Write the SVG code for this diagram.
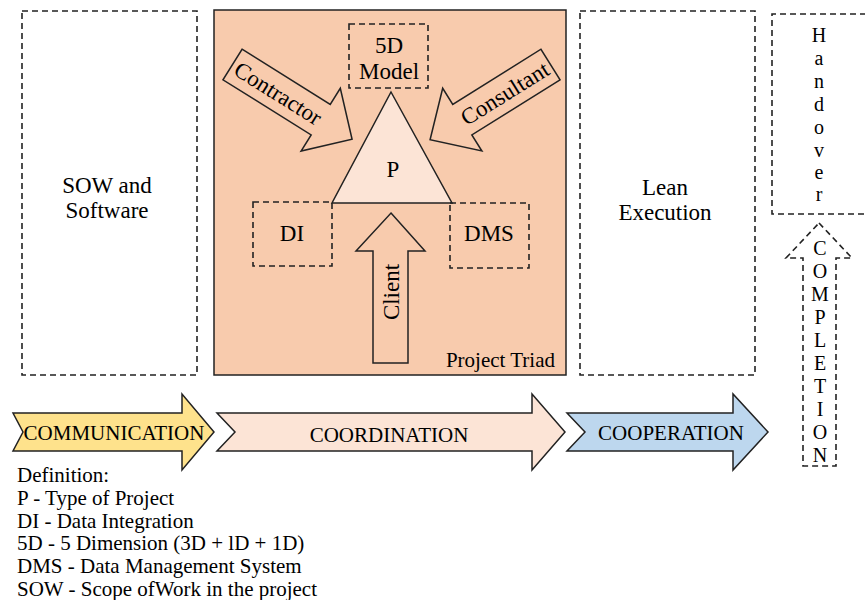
<svg xmlns="http://www.w3.org/2000/svg" width="865" height="600" viewBox="0 0 865 600" font-family="Liberation Serif, Times New Roman, serif">
<style>
text{fill:#000;}
.lbl{font-size:23px;text-anchor:middle;}
.sm{font-size:21px;}
.dash{fill:none;stroke:#222;stroke-width:1.6;stroke-dasharray:6,4;}
.solid{stroke:#222;stroke-width:1.5;stroke-linejoin:miter;}
.vt{font-size:20px;text-anchor:middle;}
</style>
<rect width="865" height="600" fill="#fff"/>
<g id="sow">
<rect class="dash" x="22" y="11" width="175" height="364"/>
<text class="lbl" x="107" y="193" font-family="Liberation Serif, serif">SOW and</text>
<text class="lbl" x="107" y="218" font-family="Liberation Serif, serif">Software</text>
</g>
<g id="project-triad">
<rect class="solid" x="214" y="10" width="352" height="365" fill="#f8cbad"/>
<text class="sm" x="555" y="367" text-anchor="end" font-family="Liberation Serif, serif">Project Triad</text>
</g>
<g id="model5d">
<rect class="dash" x="349" y="24" width="79" height="64"/>
<text class="lbl" x="389" y="53" font-family="Liberation Serif, serif">5D</text>
<text class="lbl" x="389" y="79" font-family="Liberation Serif, serif">Model</text>
</g>
<g id="p">
<polygon class="solid" points="391,92 452,203 332,203" fill="#fce4d6"/>
<text class="lbl" x="393" y="177" font-family="Liberation Serif, serif">P</text>
</g>
<g id="di">
<rect class="dash" x="253" y="202" width="79" height="64"/>
<text class="lbl" x="292" y="241" font-family="Liberation Serif, serif">DI</text>
</g>
<g id="dms">
<rect class="dash" x="450" y="203" width="79" height="65"/>
<text class="lbl" x="489" y="241" font-family="Liberation Serif, serif">DMS</text>
</g>
<g id="contractor" transform="translate(232.5,64.5) rotate(32)">
<polygon class="solid" fill="none" points="0,-18 104,-18 104,-37 141,0 104,37 104,18 0,18"/>
<text class="lbl" x="54" y="8" font-family="Liberation Serif, serif">Contractor</text>
</g>
<g id="consultant" transform="translate(550.5,64.5) rotate(148)">
<polygon class="solid" fill="none" points="0,-18 104,-18 104,-37 142,0 104,37 104,18 0,18"/>
<text class="lbl" x="54" y="8" transform="rotate(180 54 0)" font-family="Liberation Serif, serif">Consultant</text>
</g>
<g id="client">
<polygon class="solid" fill="none" points="391,213 425,251 408,251 408,363 373,363 373,251 356,251"/>
<text class="lbl" transform="translate(399,292) rotate(-90)" x="0" y="0" font-family="Liberation Serif, serif">Client</text>
</g>
<g id="lean">
<rect class="dash" x="580" y="11" width="175" height="364"/>
<text class="lbl" x="665" y="195" font-family="Liberation Serif, serif">Lean</text>
<text class="lbl" x="665" y="220" font-family="Liberation Serif, serif">Execution</text>
</g>
<g id="handover" font-family="Liberation Serif, serif">
<path class="dash" d="M866,14 H772 V214 H866"/>
<text class="vt" x="819" y="42">H</text>
<text class="vt" x="819" y="65">a</text>
<text class="vt" x="819" y="88">n</text>
<text class="vt" x="819" y="111">d</text>
<text class="vt" x="819" y="134">o</text>
<text class="vt" x="819" y="157">v</text>
<text class="vt" x="819" y="179">e</text>
<text class="vt" x="819" y="201">r</text>
</g>
<g id="connectors" font-family="Liberation Serif, serif">
<g id="completion">
<polygon class="dash" points="819,223 852,258 836,258 836,466 803,466 803,258 786,258"/>
<text class="vt" x="820" y="255">C</text>
<text class="vt" x="820" y="278">O</text>
<text class="vt" x="820" y="301">M</text>
<text class="vt" x="820" y="324">P</text>
<text class="vt" x="820" y="347">L</text>
<text class="vt" x="820" y="370">E</text>
<text class="vt" x="820" y="393">T</text>
<text class="vt" x="820" y="416">I</text>
<text class="vt" x="820" y="439">O</text>
<text class="vt" x="820" y="462">N</text>
</g>
<g id="communication">
<polygon class="solid" fill="#fee28c" points="13,413 182,413 182,394 214,432 182,470 182,451 13,451 23,432"/>
<text class="sm" x="114" y="440" text-anchor="middle">COMMUNICATION</text>
</g>
<g id="coordination">
<polygon class="solid" fill="#fce4d6" points="217,413 532,413 532,394 565,432 532,470 532,451 217,451 235,432"/>
<text class="sm" x="389" y="442" text-anchor="middle">COORDINATION</text>
</g>
<g id="cooperation">
<polygon class="solid" fill="#bdd7ee" points="567,413 733,413 733,394 768,432 733,470 733,451 567,451 585,432"/>
<text class="sm" x="671" y="440" text-anchor="middle">COOPERATION</text>
</g>
</g>
<g id="definitions" font-family="Liberation Serif, serif">
<text class="sm" x="17" y="482">Definition:</text>
<text class="sm" x="17" y="505">P - Type of Project</text>
<text class="sm" x="17" y="528">DI - Data Integration</text>
<text class="sm" x="17" y="550">5D - 5 Dimension (3D + lD + 1D)</text>
<text class="sm" x="17" y="573">DMS - Data Management System</text>
<text class="sm" x="17" y="596">SOW - Scope ofWork in the project</text>
</g>
</svg>
